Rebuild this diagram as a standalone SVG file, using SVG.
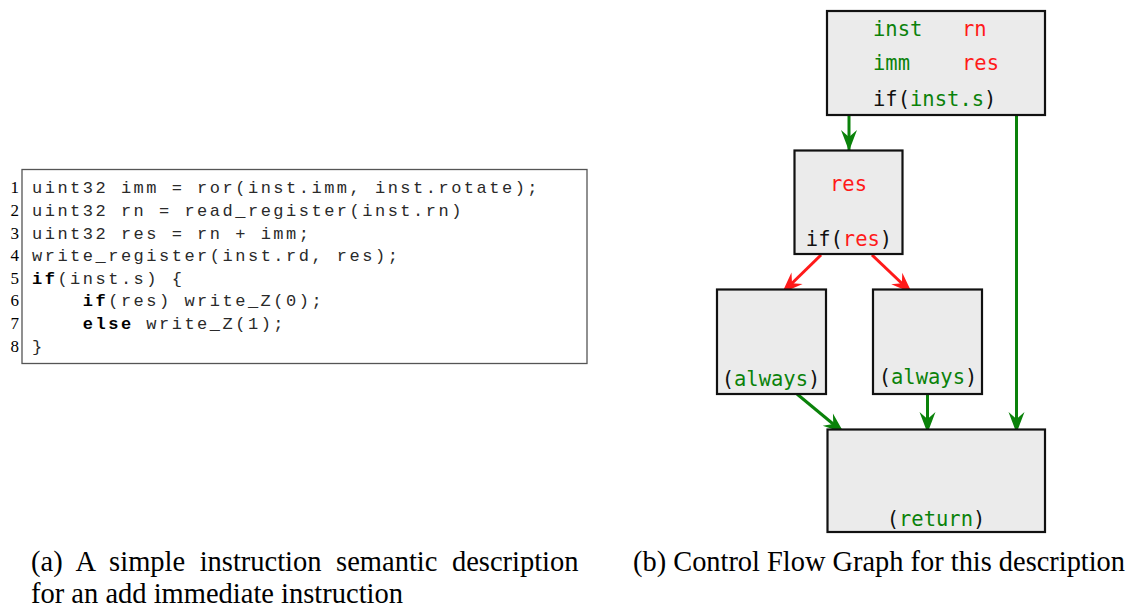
<svg xmlns="http://www.w3.org/2000/svg" width="1131" height="612" viewBox="0 0 1131 612">
  <style>
    .code { font-family: "Liberation Mono", "Courier New", monospace; font-size: 17px; letter-spacing: 2.5px; fill: #2a2a2a; }
    .code .kw { font-weight: bold; fill: #000; }
    .ln { font-family: "Liberation Serif", "Times New Roman", serif; font-size: 17px; fill: #000; text-anchor: end; }
    .cap { font-family: "Liberation Serif", "Times New Roman", serif; font-size: 28.5px; fill: #000; }
    .node rect { fill: #ebebeb; stroke: #111; stroke-width: 2.2; }
    .nt { font-family: "DejaVu Sans Mono", monospace; font-size: 20.5px; fill: #111; }
    .g { fill: #0a820a; }
    .r { fill: #ff1a1a; }
    .edge { fill: none; stroke-width: 3; }
    .eg { stroke: #0a820a; marker-end: url(#arrG); }
    .er { stroke: #ff1a1a; marker-end: url(#arrR); }
  </style>
  <defs>
    <marker id="arrG" viewBox="-22 -10 24 20" markerWidth="24" markerHeight="20" refX="0" refY="0" orient="auto" markerUnits="userSpaceOnUse">
      <path d="M0,0 L-21,-8 L-14,0 L-21,8 Z" fill="#0a820a"/>
    </marker>
    <marker id="arrR" viewBox="-22 -10 24 20" markerWidth="24" markerHeight="20" refX="0" refY="0" orient="auto" markerUnits="userSpaceOnUse">
      <path d="M0,0 L-21,-8 L-14,0 L-21,8 Z" fill="#ff1a1a"/>
    </marker>
  </defs>

  <rect width="1131" height="612" fill="#fff"/>

  <!-- Listing (a) -->
  <g id="listing">
    <rect x="22" y="169.5" width="565" height="194" fill="#fff" stroke="#555" stroke-width="1.3"/>
    <g class="ln">
      <text x="19" y="193.3">1</text>
      <text x="19" y="215.9">2</text>
      <text x="19" y="238.5">3</text>
      <text x="19" y="261.1">4</text>
      <text x="19" y="283.7">5</text>
      <text x="19" y="306.3">6</text>
      <text x="19" y="328.9">7</text>
      <text x="19" y="351.5">8</text>
    </g>
    <g class="code">
      <text x="32" y="193.3">uint32 imm = ror(inst.imm, inst.rotate);</text>
      <text x="32" y="215.9">uint32 rn = read_register(inst.rn)</text>
      <text x="32" y="238.5">uint32 res = rn + imm;</text>
      <text x="32" y="261.1">write_register(inst.rd, res);</text>
      <text x="32" y="283.7"><tspan class="kw">if</tspan>(inst.s) {</text>
      <text x="82.8" y="306.3"><tspan class="kw">if</tspan>(res) write_Z(0);</text>
      <text x="82.8" y="328.9"><tspan class="kw">else</tspan> write_Z(1);</text>
      <text x="32" y="351.5">}</text>
    </g>
  </g>

  <!-- Control flow graph (b) -->
  <g id="edges">
    <path class="edge eg" d="M849,115 L849,151"/>
    <path class="edge eg" d="M1016.5,115 L1016.5,433"/>
    <path class="edge er" d="M821,255 L782,293"/>
    <path class="edge er" d="M872,255 L912,293"/>
    <path class="edge eg" d="M797,394 L844,433"/>
    <path class="edge eg" d="M927.5,394 L927.5,433"/>
  </g>

  <g id="n_entry" class="node">
    <rect x="827" y="11" width="218" height="104"/>
    <text class="nt g" x="873" y="36">inst</text>
    <text class="nt r" x="962" y="36">rn</text>
    <text class="nt g" x="873" y="70">imm</text>
    <text class="nt r" x="962" y="70">res</text>
    <text class="nt" x="873" y="106">if(<tspan class="g">inst.s</tspan>)</text>
  </g>

  <g id="n_test" class="node">
    <rect x="794.5" y="150.5" width="108" height="103.5"/>
    <text class="nt r" x="848.5" y="191" text-anchor="middle">res</text>
    <text class="nt" x="849" y="246" text-anchor="middle">if(<tspan class="r">res</tspan>)</text>
  </g>

  <g id="n_then" class="node">
    <rect x="717" y="289.5" width="109" height="104.5"/>
    <text class="nt" x="771" y="386" text-anchor="middle">(<tspan class="g">always</tspan>)</text>
  </g>

  <g id="n_else" class="node">
    <rect x="873" y="289.5" width="109" height="104.5"/>
    <text class="nt" x="928" y="384" text-anchor="middle">(<tspan class="g">always</tspan>)</text>
  </g>

  <g id="n_exit" class="node">
    <rect x="827.5" y="429.5" width="217.5" height="102.5"/>
    <text class="nt" x="936" y="526" text-anchor="middle">(<tspan class="g">return</tspan>)</text>
  </g>

  <!-- Captions -->
  <g id="captions" class="cap">
    <text x="31" y="571" word-spacing="7.4">(a) A simple instruction semantic description</text>
    <text x="31" y="603">for an add immediate instruction</text>
    <text x="633" y="571" textLength="492" lengthAdjust="spacingAndGlyphs">(b) Control Flow Graph for this description</text>
  </g>
</svg>
